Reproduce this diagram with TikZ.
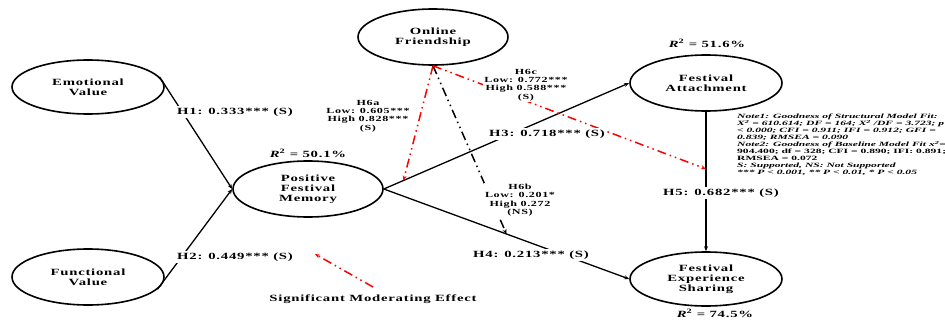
\documentclass[tikz,border=0pt]{standalone}
\usepackage{fontspec}
\setmainfont{Liberation Serif}
\newfontfamily\nodefont{Liberation Serif}[FakeStretch=1.55,LetterSpace=8]
\newfontfamily\notefont{Liberation Serif}[FakeStretch=1.78]
\usetikzlibrary{arrows.meta,calc,shapes.geometric}
\tikzset{
  construct/.style={ellipse,draw,line width=1.6pt,minimum width=152pt,minimum height=56pt,
     align=center,font=\nodefont\fontsize{9.5}{10}\selectfont\bfseries,inner sep=0pt},
  path lbl/.style={font=\nodefont\fontsize{9.5}{10}\selectfont\bfseries,fill=white,inner sep=1.5pt},
  mod lbl/.style={font=\nodefont\fontsize{7.8}{8.4}\selectfont\bfseries,align=center,inner sep=1pt,fill=white},
  rsq/.style={font=\nodefont\fontsize{9.5}{10}\selectfont\bfseries},
  pathline/.style={line width=1.3pt,-{Stealth[length=5pt,width=4pt]}},
  modline/.style={line width=1.5pt,dash pattern=on 9pt off 4pt on 1.5pt off 4pt on 1.5pt off 4pt,-{Stealth[length=5pt,width=4pt]}},
}
\begin{document}
\begin{tikzpicture}[x=1pt,y=-1pt]
\useasboundingbox (0,0) rectangle (945,321);
% constructs
\node[construct,minimum height=54pt] (emo) at (88,87) {Emotional\\Value};
\node[construct] (fun) at (88,277) {Functional\\Value};
\node[construct,minimum width=150pt] (pfm) at (308,189) {Positive\\Festival\\Memory};
\node[construct,minimum width=150pt] (of) at (433,37) {Online\\Friendship};
\node[construct] (fa) at (706,83) {Festival\\Attachment};
\node[construct,minimum height=54pt] (fes) at (706,279) {Festival\\Experience\\Sharing};
% R squared
\node[rsq] (r1) at (308,153) {{\itshape R}\textsuperscript{2} = 50.1\%};
\node[rsq] (r2) at (707,43) {{\itshape R}\textsuperscript{2} = 51.6\%};
\node[rsq] (r3) at (715,313) {{\itshape R}\textsuperscript{2} = 74.5\%};
% structural paths
\draw[pathline] (emo.8) -- (pfm.west);
\draw[pathline] (fun.-10) -- (pfm.west);
\draw[pathline] (pfm.east) -- (fa.west);
\draw[pathline] (pfm.east) -- (fes.west);
\draw[pathline,line width=2pt] (fa.south) -- (fes.north);
% moderation targets
\coordinate (t3) at ($(pfm.east)!0.08!(fa.west)$);
\coordinate (t4) at ($(pfm.east)!0.5!(fes.west)$);
\coordinate (t5) at ($(fa.south)!0.41!(fes.north)$);
\draw[modline,red] (of.south) -- (t3);
\draw[modline,black] (of.south) -- (t4);
\draw[modline,red] (of.south) -- (t5);
\node[path lbl] (h1) at (235,112) {H1: 0.333*** (S)};
\node[path lbl] (h2) at (235,257) {H2: 0.449*** (S)};
\node[path lbl] (h3) at (547,134) {H3: 0.718*** (S)};
\node[path lbl] (h4) at (531,255) {H4: 0.213*** (S)};
\node[path lbl] (h5) at (721,193) {H5: 0.682*** (S)};
\node[mod lbl] (h6a) at (368,116) {H6a\\Low: 0.605***\\High 0.828***\\(S)};
\node[mod lbl] (h6b) at (520,200) {H6b\\Low: 0.201*\\High 0.272\\(NS)};
\node[mod lbl] (h6c) at (526,85) {H6c\\Low: 0.772***\\High 0.588***\\(S)};
% legend
\coordinate (lg1) at (373,287);
\coordinate (lg2) at (315,254);
\draw[modline,red] (lg1) -- (lg2);
\node[font=\nodefont\fontsize{9.5}{10}\selectfont\bfseries] (lgt) at (373,299) {Significant Moderating Effect};
% notes
\node[anchor=north west,align=left,inner sep=0pt,font=\notefont\fontsize{6.5}{7}\selectfont\bfseries] (note) at (737,114)
{\itshape Note1: Goodness of Structural Model Fit:\\
\itshape X\textsuperscript{2} = 610.614; DF = 164; X\textsuperscript{2} /DF = 3.723; p\\
\itshape {<} 0.000; CFI = 0.911; IFI = 0.912; GFI =\\
\itshape 0.839; RMSEA = 0.090\\
\itshape Note2: Goodness of Baseline Model Fit x\textsuperscript{2}=\\
904.400; df = 328; CFI = 0.890; IFI: 0.891;\\
RMSEA = 0.072\\
\itshape S: Supported, NS: Not Supported\\
\itshape *** P {<} 0.001, ** P {<} 0.01, * P {<} 0.05};
\end{tikzpicture}
\end{document}
